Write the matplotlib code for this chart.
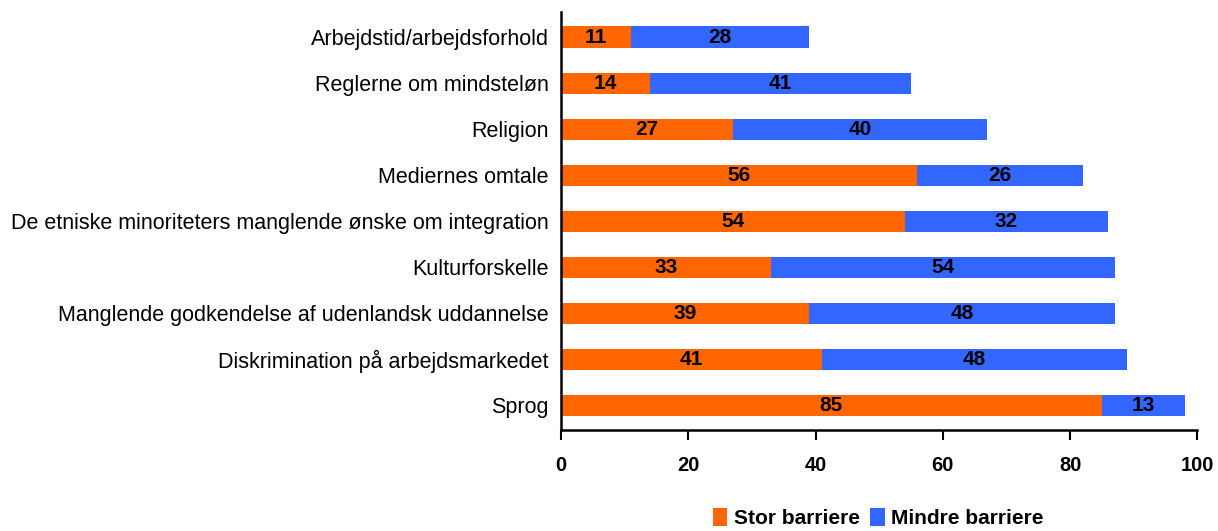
import matplotlib
matplotlib.use("Agg")
import numpy as np
import matplotlib.pyplot as plt

categories = ["Arbejdstid/arbejdsforhold", "Reglerne om mindsteløn", "Religion",
              "Mediernes omtale", "De etniske minoriteters manglende ønske om integration",
              "Kulturforskelle", "Manglende godkendelse af udenlandsk uddannelse",
              "Diskrimination på arbejdsmarkedet", "Sprog"]
stor = [11, 14, 27, 56, 54, 33, 39, 41, 85]
mindre = [28, 41, 40, 26, 32, 54, 48, 48, 13]

plt.rcParams['font.family'] = ['Liberation Sans', 'DejaVu Sans']

fig = plt.figure(figsize=(12.18, 5.31), dpi=100)
ax = fig.add_axes([0.4606, 0.19, 0.5225, 0.787])

y = np.arange(len(categories))
b1 = ax.barh(y, stor, height=0.46, color='#FF6600', label='Stor barriere')
b2 = ax.barh(y, mindre, left=stor, height=0.46, color='#3366FF', label='Mindre barriere')

for i in range(len(categories)):
    ax.text(stor[i] / 2, y[i], str(stor[i]), ha='center', va='center',
            fontsize=15, fontweight='bold')
    ax.text(stor[i] + mindre[i] / 2, y[i], str(mindre[i]), ha='center', va='center',
            fontsize=15, fontweight='bold')

ax.set_ylim(len(categories) - 0.46, -0.54)
ax.set_xlim(0, 100)
ax.set_yticks(y)
ax.set_yticklabels(categories, fontsize=15.5)
ax.tick_params(axis='y', length=0, pad=9)
ax.set_xticks([0, 20, 40, 60, 80, 100])
ax.tick_params(axis='x', length=7, width=1.5, labelsize=14.5, pad=12)
for t in ax.get_xticklabels():
    t.set_fontweight('bold')

for s in ['top', 'right']:
    ax.spines[s].set_visible(False)
ax.spines['left'].set_linewidth(1.8)
ax.spines['bottom'].set_linewidth(1.8)

leg = fig.legend(handles=[b1, b2], loc='lower center', bbox_to_anchor=(0.721, -0.03),
                 ncol=2, frameon=False, handlelength=0.7, handleheight=0.9,
                 handletextpad=0.3, columnspacing=0.5, prop={'size': 15, 'weight': 'bold'})

fig.savefig('out.png', dpi=100)
